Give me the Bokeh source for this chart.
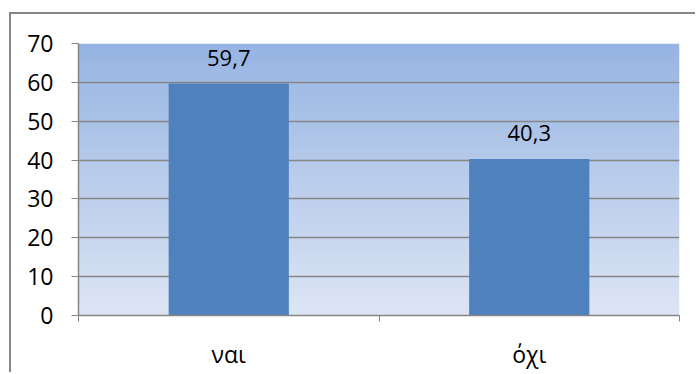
import numpy as np
from bokeh.plotting import figure
from bokeh.models import FixedTicker
from bokeh.core.properties import value
from bokeh.embed import file_html
from bokeh.resources import INLINE

# Survey answers and their shares (%)
categories = ["ναι", "όχι"]
values = [59.7, 40.3]
y_ticks = [0, 10, 20, 30, 40, 50, 60, 70]

positions = [i + 0.5 for i in range(len(categories))]
labels = [f"{v:.1f}".replace(".", ",") for v in values]

FONT = "Open Sans"
GRAY = "#868686"

p = figure(
    width=686, height=360,
    x_range=(0, len(categories)), y_range=(y_ticks[0], y_ticks[-1]),
    output_backend="svg", toolbar_location=None,
    min_border_left=67, min_border_top=29, min_border_right=18, min_border_bottom=59,
)
p.styles = {
    "margin-left": "9px", "margin-top": "12px",
    "border-left": f"2px solid {GRAY}", "border-top": f"2px solid {GRAY}",
}
p.outline_line_color = None
p.background_fill_color = "white"

# vertical gradient behind the plot area (light at the bottom, blue at the top)
n = 256
t = np.linspace(0.0, 1.0, n)[:, None]
bottom_rgb = np.array([221, 229, 244], dtype=float)
top_rgb = np.array([150, 180, 226], dtype=float)
rgb = bottom_rgb + (top_rgb - bottom_rgb) * t
img = np.empty((n, 1), dtype=np.uint32)
view = img.view(dtype=np.uint8).reshape((n, 1, 4))
view[:, 0, 0] = rgb[:, 0].round()
view[:, 0, 1] = rgb[:, 1].round()
view[:, 0, 2] = rgb[:, 2].round()
view[:, 0, 3] = 255
p.image_rgba(image=[img], x=0, y=y_ticks[0], dw=len(categories),
             dh=y_ticks[-1] - y_ticks[0], level="image")

p.vbar(x=positions, top=values, width=0.4, color="#4f81bd", line_color=None)

p.text(x=positions, y=values, text=labels, text_align="center",
       text_baseline="alphabetic", y_offset=-26,
       text_font=value(FONT), text_font_size="22px", text_color="black")

# axes
p.xaxis.ticker = FixedTicker(ticks=positions,
                             minor_ticks=list(range(len(categories) + 1)))
p.xaxis.major_label_overrides = {pos: c for pos, c in zip(positions, categories)}
p.xaxis.major_tick_line_color = None
p.xaxis.minor_tick_line_color = GRAY
p.xaxis.minor_tick_out = 6
p.xaxis.minor_tick_in = 0
p.xaxis.major_label_standoff = 16

p.yaxis.ticker = FixedTicker(ticks=y_ticks)
p.yaxis.major_tick_line_color = GRAY
p.yaxis.major_tick_out = 7
p.yaxis.major_tick_in = 0
p.yaxis.minor_tick_line_color = None
p.yaxis.major_label_standoff = 18

for ax in (p.xaxis, p.yaxis):
    ax.axis_line_color = GRAY
    ax.axis_line_width = 1.5
    ax.major_label_text_font = FONT
    ax.major_label_text_font_size = "23px"
    ax.major_label_text_color = "black"

p.xgrid.visible = False
p.ygrid.ticker = FixedTicker(ticks=y_ticks)
p.ygrid.grid_line_color = GRAY
p.ygrid.grid_line_width = 1.5

open("out.html", "w").write(file_html(p, INLINE))
